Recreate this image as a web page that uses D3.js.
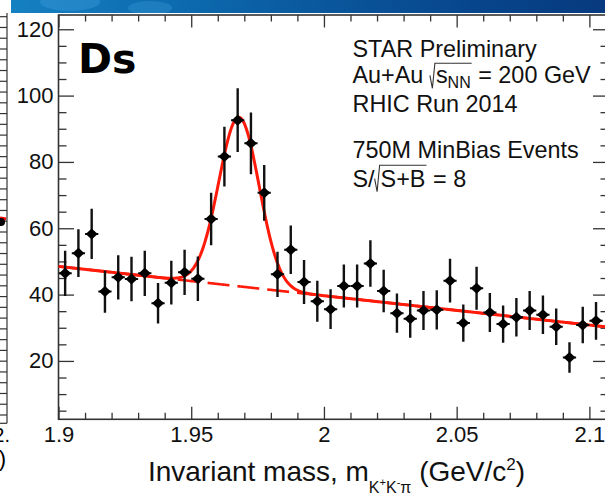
<!DOCTYPE html>
<html><head><meta charset="utf-8">
<script src="https://cdn.jsdelivr.net/npm/d3@7"></script>
<style>html,body{margin:0;padding:0;background:#fff;overflow:hidden} text{white-space:pre}</style>
</head><body><svg id="c" width="605" height="496" xmlns="http://www.w3.org/2000/svg"></svg>
<script>
// ---------------- data ----------------
const binCenters = [1.9025,1.9075,1.9125,1.9175,1.9225,1.9275,1.9325,1.9375,1.9425,1.9475,
  1.9525,1.9575,1.9625,1.9675,1.9725,1.9775,1.9825,1.9875,1.9925,1.9975,
  2.0025,2.0075,2.0125,2.0175,2.0225,2.0275,2.0325,2.0375,2.0425,2.0475,
  2.0525,2.0575,2.0625,2.0675,2.0725,2.0775,2.0825,2.0875,2.0925,2.0975,2.1025];
const counts = [46.4,52.5,58.3,40.9,45.2,44.7,46.4,37.4,43.6,46.7,
  44.8,62.8,81.6,92.6,85.6,70.7,46.1,53.5,43.8,38.0,
  35.6,42.6,42.6,49.4,41.1,34.4,32.7,35.2,35.4,44.2,
  31.4,41.9,34.6,31.1,33.2,35.2,33.9,30.3,21.0,30.8,32.1];
const errors = [6.8,7.2,7.6,6.4,6.7,6.7,6.8,6.1,6.6,6.8,
  6.7,7.9,9.0,9.6,9.3,8.4,6.8,7.3,6.6,6.2,
  6.0,6.5,6.5,7.0,6.4,5.9,5.7,5.9,5.9,6.6,
  5.6,6.5,5.9,5.6,5.8,5.9,5.8,5.5,4.6,5.5,5.7];
const xTickLabels = ["1.9","1.95","2","2.05","2.1"];
const yTickLabels = ["20","40","60","80","100","120"];
// fit: linear background + gaussian
const fitBkgAtLow = 48.5, fitBkgSlope = -88.4, fitAmp = 51, fitMean = 1.968, fitSigma = 0.0076;
const panelLabel = "Ds";
const infoLine1 = "STAR Preliminary";
const infoLine3 = "RHIC Run 2014";
const infoLine4 = "750M MinBias Events";

// ---------------- layout ----------------
const svg = d3.select("#c");
const FONT = "'Liberation Sans', Arial, Helvetica, sans-serif";
const L = 58.5, R = 608.5, T = 15, B = 419.3;
const x = d3.scaleLinear().domain([1.9, 2.1072]).range([L, R]);
const y = d3.scaleLinear().domain([2.4, 124.3]).range([B, T]);

// top banner
const defs = svg.append("defs");
const grad = defs.append("linearGradient").attr("id","band").attr("x1","0").attr("x2","1").attr("y1","0").attr("y2","0");
[[0,"#1580c2"],[0.3,"#0c69ad"],[0.55,"#0a559b"],[0.8,"#07448a"],[1,"#073a7e"]].forEach(s=>grad.append("stop").attr("offset",s[0]).attr("stop-color",s[1]));
defs.append("clipPath").attr("id","bandclip").append("rect").attr("x",11).attr("y",0).attr("width",594).attr("height",13);
svg.append("rect").attr("x",11).attr("y",0).attr("width",594).attr("height",13).attr("fill","url(#band)");
const bandDeco = svg.append("g").attr("clip-path","url(#bandclip)");
bandDeco.append("ellipse").attr("cx",70).attr("cy",2).attr("rx",30).attr("ry",9).attr("fill","#3a9ad6").attr("opacity",0.45);
bandDeco.append("ellipse").attr("cx",150).attr("cy",8).attr("rx",22).attr("ry",7).attr("fill","#3a9ad6").attr("opacity",0.35);

// neighbouring panel fragment on the left edge
const nb = svg.append("g").attr("stroke","#333").attr("stroke-width",1.2);
nb.append("line").attr("x1",7).attr("x2",7).attr("y1",13).attr("y2",423.3);
const nbY = d3.scaleLinear().domain([0,37]).range([415,16.7]);
d3.range(0,38).forEach(k=>nb.append("line").attr("x1",0).attr("x2",7).attr("y1",nbY(k)).attr("y2",nbY(k)));
nb.append("line").attr("x1",0).attr("x2",7).attr("y1",423.3).attr("y2",423.3);
svg.append("line").attr("x1",0).attr("x2",6).attr("y1",218).attr("y2",219).attr("stroke","#f00").attr("stroke-width",3);
svg.append("circle").attr("cx",1).attr("cy",222).attr("r",4).attr("fill","#000");
svg.append("text").attr("x",10).attr("y",442).attr("text-anchor","end").attr("font-family",FONT).attr("font-size",20).text("2.");
svg.append("text").attr("x",6).attr("y",466).attr("text-anchor","end").attr("font-family",FONT).attr("font-size",22).text(")");

// ---------------- axes ----------------
const axisColor = "#333";
function styleAxis(g){
  g.select(".domain").remove();
  g.selectAll(".tick line").attr("stroke",axisColor).attr("stroke-width",1.3);
  g.selectAll(".tick text").attr("font-family",FONT).attr("font-size",22).attr("fill","#111");
}
const xMajor = xTickLabels.map(Number);
const xMinor = d3.range(0,21).map(i=>1.9+i*0.01).filter(v=>!xMajor.some(m=>Math.abs(m-v)<1e-6));
const yMajor = yTickLabels.map(Number);
const yMinor = d3.range(1,25).map(i=>i*5).filter(v=>!yMajor.includes(v));

svg.append("g").attr("transform",`translate(0,${B})`)
  .call(d3.axisBottom(x).tickValues(xMajor).tickSize(-12.5).tickPadding(7).tickFormat((d,i)=>xTickLabels[i])).call(styleAxis);
svg.append("g").attr("transform",`translate(0,${B})`)
  .call(d3.axisBottom(x).tickValues(xMinor).tickSize(-6.5).tickFormat("")).call(styleAxis);
svg.append("g").attr("transform",`translate(0,${T})`)
  .call(d3.axisTop(x).tickValues(xMajor).tickSize(-12.5).tickFormat("")).call(styleAxis);
svg.append("g").attr("transform",`translate(0,${T})`)
  .call(d3.axisTop(x).tickValues(xMinor).tickSize(-6.5).tickFormat("")).call(styleAxis);
svg.append("g").attr("transform",`translate(${L},0)`)
  .call(d3.axisLeft(y).tickValues(yMajor).tickSize(-15.5).tickPadding(5).tickFormat((d,i)=>yTickLabels[i])).call(styleAxis);
svg.append("g").attr("transform",`translate(${L},0)`)
  .call(d3.axisLeft(y).tickValues(yMinor).tickSize(-8).tickFormat("")).call(styleAxis);
svg.append("g").attr("transform",`translate(${R},0)`)
  .call(d3.axisRight(y).tickValues(yMajor).tickSize(-15.5).tickFormat("")).call(styleAxis);
svg.append("g").attr("transform",`translate(${R},0)`)
  .call(d3.axisRight(y).tickValues(yMinor).tickSize(-8).tickFormat("")).call(styleAxis);
svg.append("rect").attr("x",L).attr("y",T).attr("width",R-L).attr("height",B-T)
  .attr("fill","none").attr("stroke",axisColor).attr("stroke-width",1.6);

// ---------------- fit curves ----------------
defs.append("clipPath").attr("id","frame").append("rect").attr("x",L).attr("y",T).attr("width",R-L).attr("height",B-T);
const plot = svg.append("g").attr("clip-path","url(#frame)");
const bkg = m => fitBkgAtLow + fitBkgSlope*(m-1.9);
const total = m => bkg(m) + fitAmp*Math.exp(-0.5*Math.pow((m-fitMean)/fitSigma,2));
const samples = d3.range(0,601).map(i=>1.9 + i*(2.1072-1.9)/600);
plot.append("path").datum(samples)
  .attr("d", d3.line().x(m=>x(m)).y(m=>y(bkg(m))))
  .attr("fill","none").attr("stroke","#ff1a0a").attr("stroke-width",2.6).attr("stroke-dasharray","22,8");
plot.append("path").datum(samples)
  .attr("d", d3.line().x(m=>x(m)).y(m=>y(total(m))).curve(d3.curveLinear))
  .attr("fill","none").attr("stroke","#ff1a0a").attr("stroke-width",3);

// ---------------- data points ----------------
const pts = plot.append("g");
binCenters.forEach((m,i)=>{
  const cx = x(m), cy = y(counts[i]);
  pts.append("line").attr("x1",cx).attr("x2",cx).attr("y1",y(counts[i]+errors[i])).attr("y2",y(counts[i]-errors[i]))
    .attr("stroke","#111").attr("stroke-width",2.4);
  pts.append("line").attr("x1",x(m-0.0025)).attr("x2",x(m+0.0025)).attr("y1",cy).attr("y2",cy)
    .attr("stroke","#111").attr("stroke-width",2);
  pts.append("path").attr("d",`M${cx-6},${cy}L${cx},${cy-5.5}L${cx+6},${cy}L${cx},${cy+5.5}Z`).attr("fill","#000");
});

// ---------------- text ----------------
svg.append("text").attr("x",78).attr("y",73).attr("font-family","'DejaVu Sans', sans-serif")
  .attr("font-weight","bold").attr("font-size",41).attr("fill","#000").text(panelLabel);

function layoutRuns(x0, base, parts, sqrtTopOff, center){
  const g = svg.append("g");
  let cx = x0; const stack = [];
  parts.forEach(p=>{
    if (p.sqrtOpen){ stack.push(cx); cx += 6; return; }
    if (p.sqrtClose){
      const xs = stack.pop(), top = base - sqrtTopOff;
      g.append("path").attr("d",`M${xs},${base-8}L${xs+2.5},${base+5}L${xs+5},${top}L${cx+1},${top}`)
        .attr("fill","none").attr("stroke","#333").attr("stroke-width",1.1);
      cx += 1; return;
    }
    const t = g.append("text").attr("x",cx).attr("y",base+(p.dy||0)).attr("font-family",FONT)
      .attr("xml:space","preserve").style("white-space","pre")
      .attr("font-size",p.size).attr("fill","#111").text(p.t);
    cx += t.node().getComputedTextLength();
  });
  if (center !== undefined){
    const w = cx - x0;
    g.attr("transform",`translate(${center - w/2 - x0},0)`);
  }
}
const IX = 352.5, IS = 23.4;
layoutRuns(IX, 56.7, [{t:infoLine1,size:IS}], 20);
layoutRuns(IX, 83.3, [{t:"Au+Au ",size:IS},{sqrtOpen:1},{t:"s",size:IS},{t:"NN",size:16,dy:5},{sqrtClose:1},{t:" = 200 GeV",size:IS}], 20);
layoutRuns(IX, 111.5, [{t:infoLine3,size:IS}], 20);
layoutRuns(IX, 158.3, [{t:infoLine4,size:IS}], 20);
layoutRuns(IX, 186.7, [{t:"S/",size:IS},{sqrtOpen:1},{t:"S+B",size:IS},{sqrtClose:1},{t:" = 8",size:IS}], 21.5);

// axis title (centred on the frame)
layoutRuns(0, 481, [{t:"Invariant mass, m",size:28},{t:"K",size:16,dy:12},{t:"+",size:11,dy:5},
  {t:"K",size:16,dy:12},{t:"-",size:11,dy:5},{t:"π",size:16,dy:12},{t:" (GeV/c",size:28},{t:"2",size:17,dy:-11},{t:")",size:28}], 20, 336.5);
</script></body></html>
